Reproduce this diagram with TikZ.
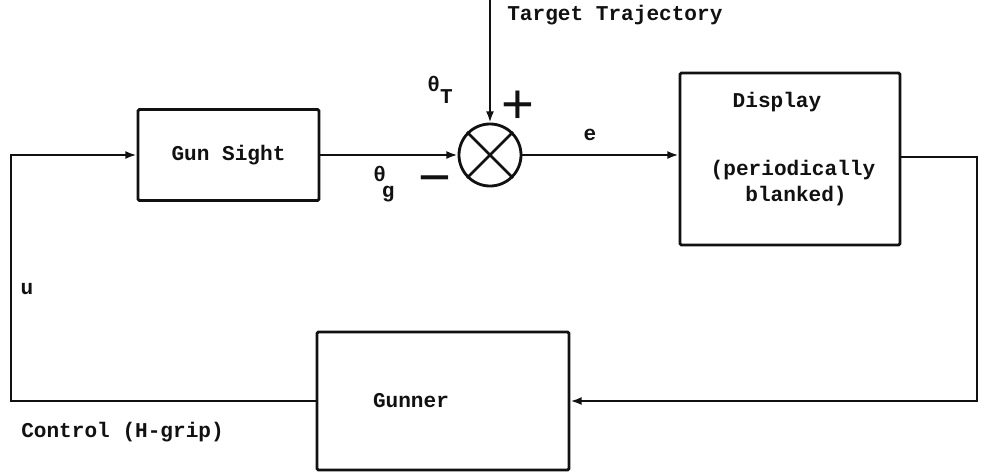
\documentclass[tikz,border=0pt]{standalone}
\usepackage{fontspec}
\setmainfont{Liberation Sans}
\setmonofont{Liberation Mono}
\usepackage{xcolor}
\definecolor{cInk}{HTML}{111111}
\usepackage{tikz}
\usetikzlibrary{positioning,arrows.meta,calc}
\tikzset{
  node-box/.style={draw=cInk,line width=2pt,rounded corners=1pt,inner sep=0pt},
  node-sum/.style={draw=cInk,line width=2pt,circle,minimum size=1.55cm,inner sep=0pt},
  txt/.style={font=\ttfamily\bfseries\fontsize{15}{18}\selectfont,text=cInk,inner sep=0pt},
  sign/.style={font=\fontsize{40}{40}\selectfont,text=cInk,inner sep=0pt},
  arrow/.style={-{Latex[length=2.8mm,width=2mm]},line width=2pt,draw=cInk},
  wire/.style={line width=2pt,draw=cInk},
}

\begin{document}
\begin{tikzpicture}[x=0.025cm,y=-0.025cm]
  \useasboundingbox (0,0) rectangle (986,473);
  \node[node-box,txt,minimum width=4.525cm,minimum height=2.275cm] (gs) at (228.5,155) {Gun Sight};
  \node[node-sum] (sum) at (490,155) {};
  \node[node-box,minimum width=5.5cm,minimum height=4.3cm] (disp) at (790,159) {};
  \node[node-box,minimum width=6.3cm,minimum height=3.45cm,
    label={[txt,xshift=-0.8cm]center:Gunner}] (gun) at (443,401) {};

  % texts of the display
  \node[txt] (d1) at (777,102) {Display};
  \node[txt] (d2) at (793,170) {(periodically};
  \node[txt] (d3) at (796,196) {blanked)};

  % signals
  \node[txt,anchor=base west] (tt-lbl) at (507,21) {Target Trajectory};
  \node[txt] (th-t) at (440,90) {θ\raisebox{-1.1ex}{T}};
  \node[txt] (th-g) at (384,184) {θ\raisebox{-1.5ex}{\hspace{-0.2em}g}};
  \node[sign] (plus) at (518,107) {+};
  \node[sign] (minus) at (435,186) {−};
  \node[txt] (e-lbl) at (590,135) {e};
  \node[txt] (u-lbl) at (27,289) {u};
  \node[txt,anchor=base west] (c-lbl) at (21,437) {Control (H-grip)};

  \coordinate (tt) at (490,0);
  \coordinate (ltop) at (11,155);
  \coordinate (lbot) at (11,401);
  \coordinate (rtop) at (977,157);
  \coordinate (rbot) at (977,401);

  \draw[wire] (sum.north east) -- (sum.south west) (sum.north west) -- (sum.south east);
  \draw[arrow] (tt) -- (sum.north);
  \draw[arrow] (gs.east) -- (sum.west);
  \draw[arrow] (sum.east) -- (disp.west |- sum.east);
  \draw[arrow] (disp.east |- rtop) -- (rtop) -- (rbot) -- (gun.east);
  \draw[arrow] (gun.west) -- (lbot) -- (ltop) -- (gs.west);
\end{tikzpicture}
\end{document}
